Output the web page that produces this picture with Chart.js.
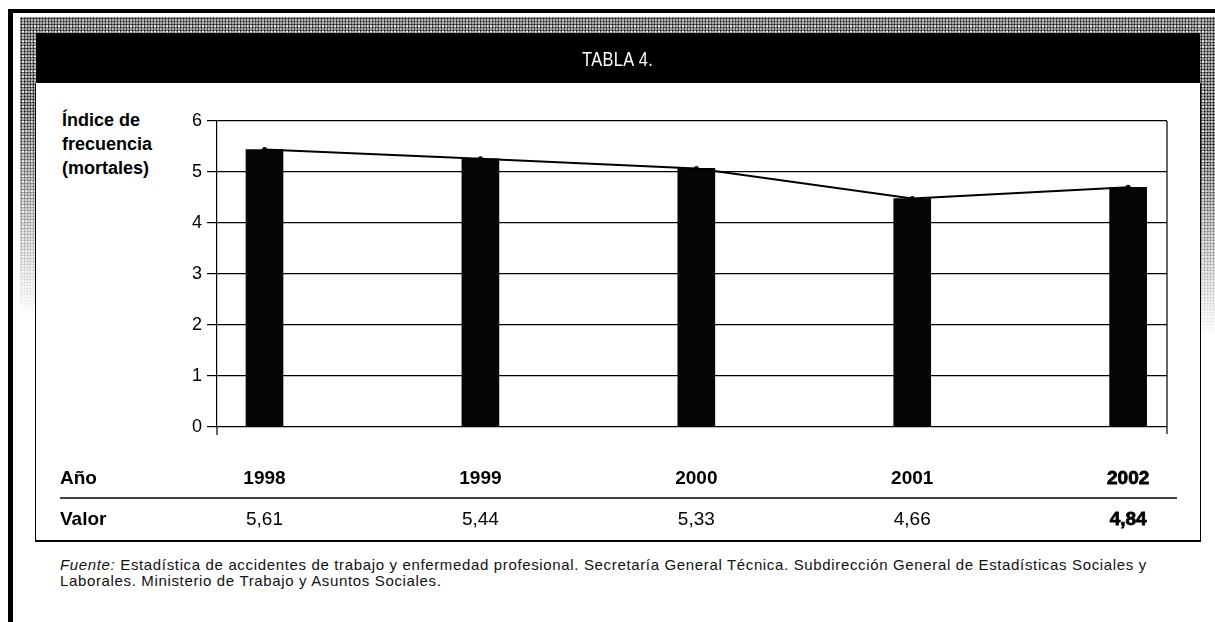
<!DOCTYPE html>
<html>
<head>
<meta charset="utf-8">
<script src="https://cdn.jsdelivr.net/npm/chart.js@4/dist/chart.umd.min.js"></script>
<style>
  body { margin: 0; background: #fff; }
  #page { position: relative; width: 1215px; height: 622px; overflow: hidden; font-family: 'Liberation Sans', Arial, sans-serif; }
  .abs { position: absolute; }
  .dots {
    background-color: #a8a8a8;
    background-image: radial-gradient(#111 0.9px, transparent 1.1px), radial-gradient(#fff 0.8px, transparent 1px);
    background-size: 3px 3px, 4px 5px;
    background-position: 0 0, 1px 2px;
  }
  #topline { left: 8px; top: 9px; width: 1207px; height: 4px; background: #000; }
  #leftline { left: 8px; top: 9px; width: 5px; height: 613px; background: #000; }
  #dotTop { left: 20px; top: 17px; width: 1195px; height: 16px; }
  #dotLeft { left: 20px; top: 17px; width: 16px; height: 300px; -webkit-mask-image: linear-gradient(#000 30%, transparent); mask-image: linear-gradient(#000 30%, transparent); }
  #dotRight { left: 1200px; top: 17px; width: 15px; height: 320px; -webkit-mask-image: linear-gradient(#000 40%, transparent); mask-image: linear-gradient(#000 40%, transparent); }
  #header { left: 36px; top: 33px; width: 1164px; height: 50px; background: #000; color: #fff; text-align: center; }
  #header span { display: inline-block; font-size: 21px; line-height: 52px; transform: scaleX(0.78); letter-spacing: 0.5px; }
  #panel { left: 35px; top: 83px; width: 1164px; height: 457px; border-left: 1px solid #000; border-right: 1px solid #000; border-bottom: 2px solid #000; background: #fff; }
  #ytitle { left: 62px; top: 108px; font-weight: bold; font-size: 18px; line-height: 24px; }
  #note { left: 60px; top: 557px; width: 1140px; font-size: 15px; letter-spacing: 0.65px; line-height: 16px; color: #111; white-space: nowrap; }
  canvas { position: absolute; left: 0; top: 0; }
</style>
</head>
<body>
<div id="page">
  <div id="dotTop" class="abs dots"></div>
  <div id="dotLeft" class="abs dots"></div>
  <div id="dotRight" class="abs dots"></div>
  <div id="topline" class="abs"></div>
  <div id="leftline" class="abs"></div>
  <div id="header" class="abs"><span>TABLA 4.</span></div>
  <div id="panel" class="abs"></div>
  <div id="ytitle" class="abs">Índice de<br>frecuencia<br>(mortales)</div>
  <div id="note" class="abs"><i>Fuente:</i> Estadística de accidentes de trabajo y enfermedad profesional. Secretaría General Técnica. Subdirección General de Estadísticas Sociales y<br>Laborales. Ministerio de Trabajo y Asuntos Sociales.</div>
  <canvas id="chart" width="1215" height="622"></canvas>
</div>
<script>
// datos
const years = [1998, 1999, 2000, 2001, 2002];
const plotted = [5.44, 5.26, 5.07, 4.48, 4.70];   // altura
const valores = [5.61, 5.44, 5.33, 4.66, 4.84];   // fila "Valor" de la tabla
const yTicks = [0, 1, 2, 3, 4, 5, 6];

const FONT = "'Liberation Sans', Arial, sans-serif";
const pts = years.map((y, i) => ({ x: y, y: plotted[i] }));

const tablePlugin = {
  id: 'tabla',
  afterDraw(chart) {
    const ctx = chart.ctx;
    const xs = chart.scales.x;
    const area = chart.chartArea;
    ctx.save();
    // borde derecho y prolongacion del eje
    ctx.strokeStyle = '#000';
    ctx.lineWidth = 1.2;
    ctx.beginPath();
    ctx.moveTo(area.right, area.top);
    ctx.lineTo(area.right, area.bottom + 7);
    ctx.moveTo(area.left, area.bottom);
    ctx.lineTo(area.left, area.bottom + 8);
    ctx.stroke();

    // tabla
    ctx.fillStyle = '#000';
    ctx.textBaseline = 'middle';
    ctx.textAlign = 'left';
    ctx.font = 'bold 19px ' + FONT;
    ctx.fillText('Año', 60, 479);
    ctx.fillText('Valor', 60, 520);
    ctx.textAlign = 'center';
    years.forEach((yr, i) => {
      const px = xs.getPixelForValue(yr);
      const last = i === years.length - 1;
      ctx.font = 'bold 19px ' + FONT;
      ctx.fillText(String(yr), px, 479);
      if (last) { ctx.lineWidth = 0.8; ctx.strokeText(String(yr), px, 479); }
      const txt = valores[i].toFixed(2).replace('.', ',');
      ctx.font = (last ? 'bold ' : '') + '19px ' + FONT;
      ctx.fillText(txt, px, 520);
      if (last) { ctx.lineWidth = 0.8; ctx.strokeText(txt, px, 520); }
    });
    ctx.lineWidth = 1.6;
    ctx.beginPath();
    ctx.moveTo(60, 498);
    ctx.lineTo(area.right + 10, 498);
    ctx.stroke();
    ctx.restore();
  }
};

new Chart(document.getElementById('chart'), {
  type: 'bar',
  data: {
    datasets: [
      {
        type: 'line',
        data: pts,
        borderColor: '#000',
        borderWidth: 2,
        pointRadius: 2.5,
        pointBackgroundColor: '#000',
        pointBorderWidth: 0,
        tension: 0,
        order: 0
      },
      {
        type: 'bar',
        data: pts,
        backgroundColor: '#050505',
        barThickness: 37,
        order: 1
      }
    ]
  },
  options: {
    responsive: false,
    animation: false,
    devicePixelRatio: 1,
    layout: { padding: { left: 0, top: 121, right: 48, bottom: 195 } },
    plugins: { legend: { display: false }, tooltip: { enabled: false } },
    scales: {
      x: {
        type: 'linear',
        min: 1997.78,
        max: 2002.18,
        offset: false,
        display: false
      },
      y: {
        min: 0,
        max: 6,
        afterBuildTicks(scale) { scale.ticks = yTicks.map(v => ({ value: v })); },
        afterFit(scale) { scale.width = 217; },
        grid: { color: '#000', lineWidth: 1.2, tickLength: 10, drawTicks: true },
        border: { display: true, color: '#000', width: 1.2 },
        ticks: { color: '#000', padding: 5, font: { family: FONT, size: 18 } }
      }
    }
  },
  plugins: [tablePlugin]
});
</script>
</body>
</html>
